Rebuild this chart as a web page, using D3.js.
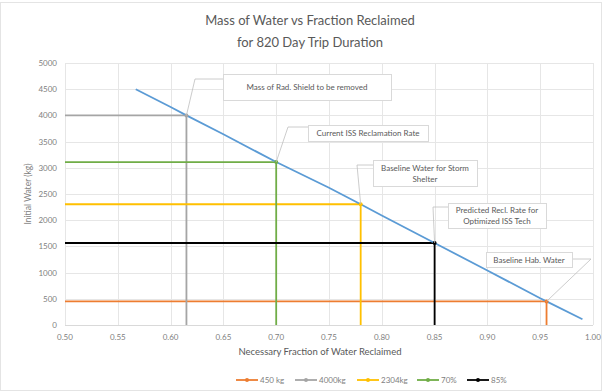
<!DOCTYPE html>
<html>
<head>
<meta charset="utf-8">
<script src="https://cdn.jsdelivr.net/npm/d3@7"></script>
<style>
  body { margin: 0; background: #fff; }
  text { font-family: Lato, "Open Sans", sans-serif; }
</style>
</head>
<body>
<script>
// Mass of water vs fraction reclaimed

const width = 603, height = 392;
const margin = {top: 63, right: 10, bottom: 67, left: 65};

// blue curve
const curveFrac  = [0.567, 0.60, 0.615, 0.65, 0.70, 0.75, 0.78, 0.80, 0.85, 0.90, 0.95, 0.956, 0.99];
const curveWater = [4500, 4160, 4000, 3640, 3110, 2620, 2304, 2090, 1565, 1040, 510, 450, 110];

// drop-line series
const seriesNames = ["450 kg", "4000kg", "2304kg", "70%", "85%"];
const seriesFrac  = [0.956, 0.615, 0.78, 0.70, 0.85];
const seriesWater = [450, 4000, 2304, 3110, 1565];
const seriesColors = ["#ed7d31", "#a5a5a5", "#ffc000", "#70ad47", "#000000"];

const xTicks = [0.50, 0.55, 0.60, 0.65, 0.70, 0.75, 0.80, 0.85, 0.90, 0.95, 1.00];
const xTickLabels = ["0.50", "0.55", "0.60", "0.65", "0.70", "0.75", "0.80", "0.85", "0.90", "0.95", "1.00"];
const yTicks = [0, 500, 1000, 1500, 2000, 2500, 3000, 3500, 4000, 4500, 5000];

// callouts: which series point they label
const calloutText = [
  ["Mass of Rad. Shield to be removed"],
  ["Current ISS Reclamation Rate"],
  ["Baseline Water for Storm", "Shelter"],
  ["Predicted Recl. Rate for", "Optimized ISS Tech"],
  ["Baseline Hab. Water"]
];
const calloutSeries = [1, 3, 2, 4, 0];

const svg = d3.select("body").append("svg")
    .attr("width", width)
    .attr("height", height);

svg.append("rect")
    .attr("x", 0.5).attr("y", 2.5)
    .attr("width", width - 2).attr("height", height - 4)
    .attr("fill", "#fff")
    .attr("stroke", "#e4e4e4");

const x = d3.scaleLinear().domain([0.5, 1.0]).range([0, 528]);
const y = d3.scaleLinear().domain([0, 5000]).range([262, 0]);

const g = svg.append("g")
    .attr("transform", "translate(" + margin.left + "," + margin.top + ")");

// gridlines
g.append("g")
    .selectAll("line")
    .data(yTicks.slice(1))
    .join("line")
    .attr("x1", 0).attr("x2", x(1.0))
    .attr("y1", d => Math.round(y(d)) + 0.5)
    .attr("y2", d => Math.round(y(d)) + 0.5)
    .attr("stroke", "#e6e6e6");

g.append("g")
    .selectAll("line")
    .data(xTicks)
    .join("line")
    .attr("x1", d => Math.round(x(d)) + 0.5)
    .attr("x2", d => Math.round(x(d)) + 0.5)
    .attr("y1", 0).attr("y2", y(0))
    .attr("stroke", "#e6e6e6");

// x axis line
g.append("line")
    .attr("x1", 0).attr("x2", x(1.0))
    .attr("y1", Math.round(y(0)) + 0.5).attr("y2", Math.round(y(0)) + 0.5)
    .attr("stroke", "#d9d9d9");

// tick labels
g.selectAll(".xlab")
    .data(xTicks)
    .join("text")
    .attr("class", "xlab")
    .attr("x", d => x(d))
    .attr("y", y(0) + 15)
    .attr("text-anchor", "middle")
    .attr("fill", "#808080")
    .style("font-size", "8px")
    .text((d, i) => xTickLabels[i]);

g.selectAll(".ylab")
    .data(yTicks)
    .join("text")
    .attr("class", "ylab")
    .attr("x", -8)
    .attr("y", d => y(d) + 3)
    .attr("text-anchor", "end")
    .attr("fill", "#808080")
    .style("font-size", "8px")
    .text(d => d);

// drop lines
const line = d3.line().x(d => x(d[0])).y(d => y(d[1]));

seriesNames.forEach((name, i) => {
  const pts = [[0.5, seriesWater[i]], [seriesFrac[i], seriesWater[i]], [seriesFrac[i], 0]];
  g.append("path")
      .attr("d", line(pts))
      .attr("fill", "none")
      .attr("stroke", seriesColors[i])
      .attr("stroke-width", 1.8);
});

// blue curve
g.append("path")
    .attr("d", line(curveFrac.map((f, i) => [f, curveWater[i]])))
    .attr("fill", "none")
    .attr("stroke", "#5b9bd5")
    .attr("stroke-width", 1.8);

// corner markers
g.selectAll(".marker")
    .data(seriesNames)
    .join("circle")
    .attr("class", "marker")
    .attr("cx", (d, i) => x(seriesFrac[i]))
    .attr("cy", (d, i) => y(seriesWater[i]))
    .attr("r", 2)
    .attr("fill", (d, i) => seriesColors[i]);

// callouts (box position in pixels relative to plot area)
const boxes = [
  {x: 158, y: 11, w: 168, h: 26, elbowX: 130, elbowY: 16, side: "left"},
  {x: 243, y: 62, w: 120, h: 16, elbowX: 223, elbowY: 64, side: "left"},
  {x: 308, y: 97, w: 104, h: 26, elbowX: 292, elbowY: 102, side: "left"},
  {x: 383, y: 140, w: 98, h: 25, elbowX: 368, elbowY: 144, side: "left"},
  {x: 421, y: 189, w: 86, h: 15, elbowX: 526, elbowY: 196, side: "right"}
];

boxes.forEach((b, k) => {
  const si = calloutSeries[k];
  const px = x(seriesFrac[si]), py = y(seriesWater[si]);
  const edgeX = b.side === "left" ? b.x : b.x + b.w;
  g.append("polyline")
      .attr("points", [[px, py], [b.elbowX, b.elbowY], [edgeX, b.elbowY]].map(p => p.join(",")).join(" "))
      .attr("fill", "none")
      .attr("stroke", "#bfbfbf")
      .attr("stroke-width", 0.8);
  g.append("rect")
      .attr("x", b.x + 0.5).attr("y", b.y + 0.5)
      .attr("width", b.w).attr("height", b.h)
      .attr("fill", "#fff")
      .attr("stroke", "#d9d9d9");
  const lines = calloutText[k];
  lines.forEach((s, j) => {
    g.append("text")
        .attr("x", b.x + b.w / 2)
        .attr("y", b.y + b.h / 2 - (lines.length - 1) * 5.5 + 3 + j * 11)
        .attr("text-anchor", "middle")
        .attr("fill", "#595959")
        .style("font-size", "8px")
        .text(s);
  });
});

// title
svg.append("text")
    .attr("x", 310).attr("y", 25)
    .attr("text-anchor", "middle")
    .attr("fill", "#595959")
    .style("font-size", "13px")
    .text("Mass of Water vs Fraction Reclaimed");
svg.append("text")
    .attr("x", 310).attr("y", 47)
    .attr("text-anchor", "middle")
    .attr("fill", "#595959")
    .style("font-size", "13px")
    .text("for 820 Day Trip Duration");

// axis titles
svg.append("text")
    .attr("x", 320).attr("y", 355)
    .attr("text-anchor", "middle")
    .attr("fill", "#595959")
    .style("font-size", "9.5px")
    .text("Necessary Fraction of Water Reclaimed");

svg.append("text")
    .attr("transform", "translate(31,194) rotate(-90)")
    .attr("text-anchor", "middle")
    .attr("fill", "#808080")
    .style("font-size", "8.5px")
    .text("Initial Water (kg)");

// legend
const legendX = [236, 295, 357, 417, 467];
const legend = svg.append("g").attr("transform", "translate(0,380)");
seriesNames.forEach((name, i) => {
  const lg = legend.append("g").attr("transform", "translate(" + legendX[i] + ",0)");
  lg.append("line").attr("x1", 0).attr("x2", 22).attr("y1", 0).attr("y2", 0)
      .attr("stroke", seriesColors[i]).attr("stroke-width", 1.8);
  lg.append("circle").attr("cx", 11).attr("cy", 0).attr("r", 2).attr("fill", seriesColors[i]);
  lg.append("text").attr("x", 24).attr("y", 3)
      .attr("fill", "#808080")
      .style("font-size", "8px")
      .text(name);
});
</script>
</body>
</html>
